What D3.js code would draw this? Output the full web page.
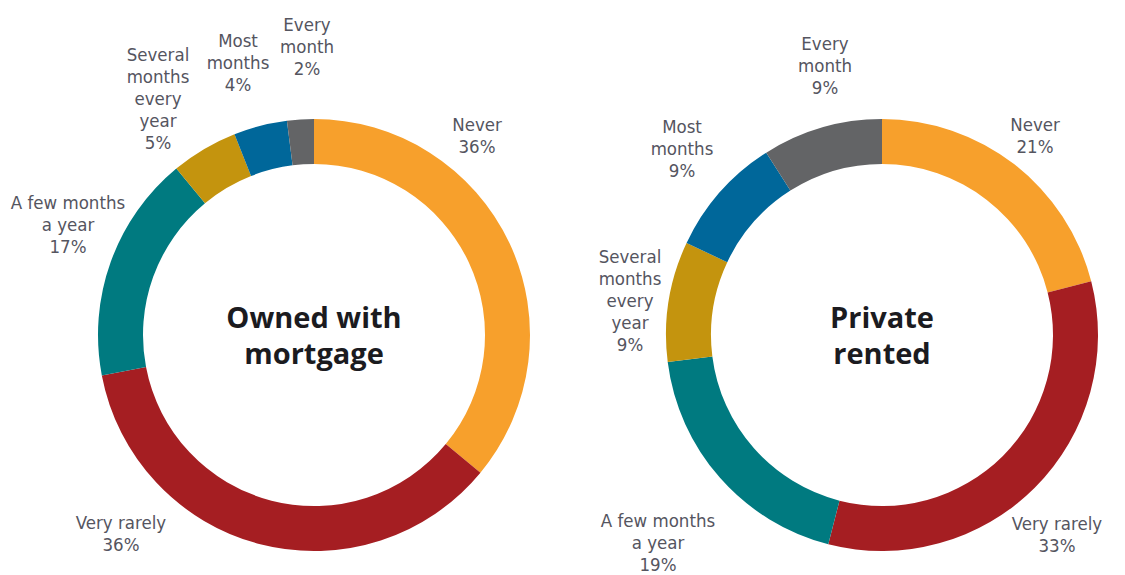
<!DOCTYPE html>
<html lang="en">
<head>
  <meta charset="UTF-8">
  <title>Owned with mortgage vs Private rented</title>
  <script src="https://d3js.org/d3.v7.min.js"></script>
  <style>
    body {
      margin: 0;
      background: #ffffff;
    }
    .slice-label {
      font-family: "Liberation Sans Narrow", "DejaVu Sans Condensed", "Roboto", sans-serif;
      font-size: 18.5px;
      fill: #55555f;
      text-anchor: middle;
    }
    .center-title {
      font-family: "Open Sans", "Lato", sans-serif;
      font-weight: 700;
      font-size: 29px;
      fill: #1b1b1f;
      text-anchor: middle;
    }
  </style>
</head>
<body>
  <div id="chart"></div>

  <script>
    // categories, in drawing order (clockwise from 12 o'clock)
    const categories = ["Never", "Very rarely", "A few months a year", "Several months every year", "Most months", "Every month"];

    // label lines for each category
    const labelLines = [
      ["Never"],
      ["Very rarely"],
      ["A few months", "a year"],
      ["Several", "months", "every", "year"],
      ["Most", "months"],
      ["Every", "month"]
    ];

    // percentages
    const ownedValues = [36, 36, 17, 5, 4, 2];
    const rentedValues = [21, 33, 19, 9, 9, 9];

    const colors = ["#f7a02c", "#a51e22", "#007a80", "#c4940e", "#00679a", "#636466"];

    const width = 1125, height = 575;
    const outerR = 216, innerR = 171;

    // positions of the label blocks (x centre, baseline of first line)
    const ownedLabelPos = [[477, 131], [121, 529], [68, 209], [158, 61], [238, 47], [307, 31]];
    const rentedLabelPos = [[1035, 131], [1057, 530], [658, 527], [630, 263], [682, 133], [825, 50]];

    const charts = [
      { cx: 314, cy: 335, values: ownedValues, title: ["Owned with", "mortgage"], labels: ownedLabelPos },
      { cx: 882, cy: 335, values: rentedValues, title: ["Private", "rented"], labels: rentedLabelPos }
    ];

    const svg = d3.select("#chart").append("svg")
      .attr("width", width)
      .attr("height", height);

    const pie = d3.pie().sort(null).value(d => d);
    const arc = d3.arc().innerRadius(innerR).outerRadius(outerR);

    charts.forEach(c => {
      const g = svg.append("g")
        .attr("transform", "translate(" + c.cx + "," + c.cy + ")");

      g.selectAll("path")
        .data(pie(c.values))
        .enter().append("path")
        .attr("d", arc)
        .attr("fill", (d, i) => colors[i]);

      // title in the middle
      g.selectAll(".center-title")
        .data(c.title)
        .enter().append("text")
        .attr("class", "center-title")
        .attr("x", 0)
        .attr("y", (d, i) => -7 + i * 36)
        .text(d => d);

      // labels around the ring
      c.values.forEach((v, i) => {
        const lines = labelLines[i].concat([v + "%"]);
        const t = svg.append("text")
          .attr("class", "slice-label")
          .attr("x", c.labels[i][0])
          .attr("y", c.labels[i][1]);
        lines.forEach((l, j) => {
          t.append("tspan")
            .attr("x", c.labels[i][0])
            .attr("dy", j === 0 ? 0 : 22)
            .text(l);
        });
      });
    });
  </script>
</body>
</html>
